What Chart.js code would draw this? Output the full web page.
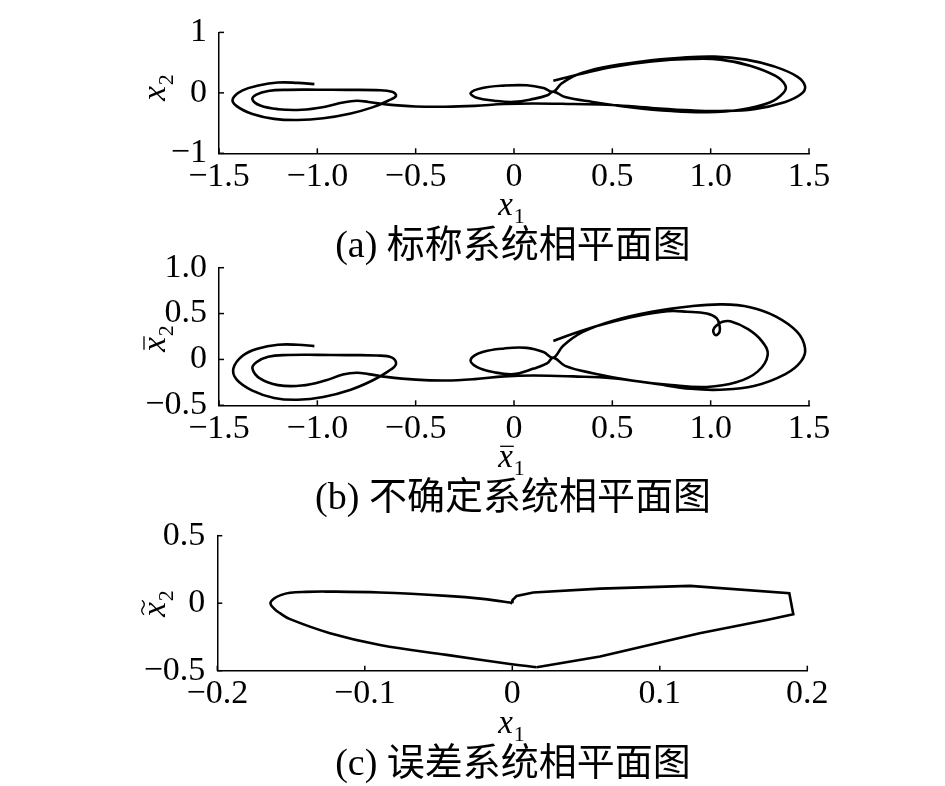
<!DOCTYPE html>
<html>
<head>
<meta charset="utf-8">
<script src="https://cdn.jsdelivr.net/npm/chart.js@4.4.1/dist/chart.umd.min.js"></script>
<style>
  html, body { margin: 0; padding: 0; background: #fff; }
  #wrap { position: relative; width: 945px; height: 786px; }
  #wrap canvas { position: absolute; left: 0; top: 0; }
</style>
</head>
<body>
<div id="wrap">
  <canvas id="chartA" width="945" height="786"></canvas>
  <canvas id="chartB" width="945" height="786"></canvas>
  <canvas id="chartC" width="945" height="786"></canvas>
</div>
<script>
// (a) 标称系统 x1 / x2
const nominalX = [-1.015, -1.1, -1.2, -1.3, -1.38, -1.43, -1.41, -1.33, -1.22, -1.1, -0.97, -0.83, -0.72, -0.64, -0.6, -0.62, -0.7, -0.85, -1.0, -1.15, -1.25, -1.31, -1.33, -1.29, -1.2, -1.08, -0.96, -0.87, -0.8, -0.74, -0.65, -0.5, -0.35, -0.2, -0.05, 0.1, 0.3, 0.5, 0.7, 0.9, 1.05, 1.22, 1.38, 1.46, 1.48, 1.44, 1.32, 1.18, 1.02, 0.85, 0.65, 0.45, 0.32, 0.24, 0.2,
  0.15, 0.065, -0.05, -0.16, -0.22, -0.19, -0.1, 0.0, 0.1, 0.17, 0.2,
  0.26, 0.4, 0.6, 0.8, 0.98, 1.15, 1.3, 1.37, 1.38, 1.33, 1.2, 1.05, 0.9, 0.7, 0.5, 0.35, 0.25, 0.2];
const nominalY = [0.145, 0.165, 0.17, 0.12, 0.04, -0.1, -0.22, -0.35, -0.43, -0.45, -0.42, -0.34, -0.24, -0.13, -0.05, 0.02, 0.045, 0.05, 0.052, 0.05, 0.03, -0.03, -0.11, -0.21, -0.27, -0.28, -0.23, -0.16, -0.13, -0.15, -0.19, -0.225, -0.23, -0.215, -0.185, -0.175, -0.185, -0.2, -0.25, -0.29, -0.3, -0.27, -0.15, -0.02, 0.11, 0.27, 0.44, 0.55, 0.6, 0.58, 0.52, 0.42, 0.3, 0.15, 0.02,
  0.08, 0.125, 0.12, 0.08, 0.0, -0.08, -0.13, -0.15, -0.1, -0.04, 0.02,
  -0.07, -0.15, -0.24, -0.3, -0.32, -0.28, -0.16, 0.0, 0.12, 0.28, 0.45, 0.55, 0.56, 0.52, 0.43, 0.32, 0.24, 0.2];

// (b) 不确定系统
const uncertainX = [-1.015, -1.1, -1.2, -1.3, -1.38, -1.427, -1.41, -1.33, -1.22, -1.1, -0.97, -0.83, -0.72, -0.64, -0.6, -0.62, -0.7, -0.85, -1.0, -1.15, -1.25, -1.31, -1.33, -1.29, -1.2, -1.08, -0.96, -0.87, -0.8, -0.74, -0.65, -0.5, -0.35, -0.2, -0.05, 0.1, 0.3, 0.5, 0.7, 0.9, 1.05, 1.22, 1.38, 1.46, 1.48, 1.44, 1.33, 1.2, 1.06, 0.9, 0.7, 0.5, 0.35, 0.25, 0.2,
  0.15, 0.065, -0.05, -0.16, -0.22, -0.19, -0.1, 0.0, 0.1, 0.17, 0.2,
  0.26, 0.4, 0.6, 0.8, 0.98, 1.13, 1.24, 1.29, 1.26, 1.19, 1.1, 1.06, 1.03, 1.013, 1.025, 1.045, 1.045, 1.03, 0.98, 0.88, 0.78, 0.62, 0.45, 0.3, 0.2];
const uncertainY = [0.145, 0.16, 0.16, 0.12, 0.04, -0.1, -0.22, -0.34, -0.42, -0.44, -0.41, -0.33, -0.23, -0.13, -0.05, 0.02, 0.043, 0.047, 0.05, 0.048, 0.03, -0.03, -0.1, -0.21, -0.28, -0.285, -0.23, -0.165, -0.145, -0.16, -0.19, -0.22, -0.23, -0.215, -0.185, -0.175, -0.185, -0.205, -0.26, -0.32, -0.33, -0.29, -0.16, -0.02, 0.12, 0.3, 0.47, 0.57, 0.6, 0.58, 0.52, 0.42, 0.3, 0.15, 0.02,
  0.08, 0.126, 0.12, 0.08, 0.0, -0.08, -0.14, -0.16, -0.1, -0.04, 0.02,
  -0.07, -0.15, -0.23, -0.28, -0.3, -0.25, -0.13, 0.05, 0.2, 0.33, 0.415, 0.41, 0.37, 0.32, 0.265, 0.3, 0.37, 0.45, 0.5, 0.52, 0.525, 0.47, 0.38, 0.28, 0.2];

// (c) 误差系统: smooth left part, then the straight right part
const errorCurveX = [0, -0.0016, -0.02, -0.0445, -0.0897, -0.126, -0.14, -0.1507, -0.157, -0.1615, -0.164, -0.1615, -0.1575, -0.1507, -0.1236, -0.0897, -0.0445, -0.0016, 0.0165];
const errorCurveY = [0, 0.005, 0.032, 0.054, 0.079, 0.086, 0.084, 0.077, 0.06, 0.035, 0, -0.04, -0.074, -0.118, -0.222, -0.309, -0.383, -0.45, -0.474];
const errorEdgeX = [0.0165, 0.0595, 0.127, 0.1725, 0.1905, 0.1878, 0.1205, 0.0595, 0.0142, 0.003, 0.0003, 0];
const errorEdgeY = [-0.474, -0.395, -0.222, -0.124, -0.082, 0.074, 0.128, 0.108, 0.079, 0.054, 0.025, 0];

// tick values and labels
const phaseTicksX = [-1.5, -1.0, -0.5, 0, 0.5, 1.0, 1.5];
const phaseLabelsX = ['\u22121.5', '\u22121.0', '\u22120.5', '0', '0.5', '1.0', '1.5'];
const nominalTicksY = [-1, 0, 1];
const nominalLabelsY = ['\u22121', '0', '1'];
const uncertainTicksY = [-0.5, 0, 0.5, 1.0];
const uncertainLabelsY = ['\u22120.5', '0', '0.5', '1.0'];
const errorTicksX = [-0.2, -0.1, 0, 0.1, 0.2];
const errorLabelsX = ['\u22120.2', '\u22120.1', '0', '0.1', '0.2'];
const errorTicksY = [-0.5, 0, 0.5];
const errorLabelsY = ['\u22120.5', '0', '0.5'];

const captions = ['(a) 标称系统相平面图', '(b) 不确定系统相平面图', '(c) 误差系统相平面图'];

const W = 945, H = 786;
const serif = '"Liberation Serif", "Times New Roman", serif';

// x with subscript, optional bar / tilde on top
function drawVar(ctx, mark, sub, cx, base) {
  ctx.font = 'italic 33px ' + serif;
  const wx = ctx.measureText('x').width;
  ctx.font = '22px ' + serif;
  const ws = ctx.measureText(sub).width;
  const x0 = cx - (wx + 2 + ws) / 2;
  ctx.textAlign = 'left';
  ctx.textBaseline = 'alphabetic';
  ctx.font = 'italic 33px ' + serif;
  ctx.fillText('x', x0, base);
  ctx.font = '22px ' + serif;
  ctx.fillText(sub, x0 + wx + 1, base + 8);
  ctx.lineWidth = 1.3;
  if (mark === 'bar') {
    ctx.beginPath();
    ctx.moveTo(x0 + 2, base - 21);
    ctx.lineTo(x0 + wx + 1, base - 21);
    ctx.stroke();
  } else if (mark === 'tilde') {
    const a = x0 + 2, b = x0 + wx + 2, m = (a + b) / 2, yy = base - 22;
    ctx.beginPath();
    ctx.moveTo(a, yy + 1);
    ctx.quadraticCurveTo((a + m) / 2, yy - 3, m, yy);
    ctx.quadraticCurveTo((m + b) / 2, yy + 3, b, yy - 1);
    ctx.stroke();
  }
}

const decor = {
  id: 'decor',
  afterDraw(chart, args, o) {
    const { ctx } = chart;
    const xs = chart.scales.x, ys = chart.scales.y;
    ctx.save();
    ctx.strokeStyle = '#000';
    ctx.fillStyle = '#000';
    ctx.lineWidth = 1.5;
    xs.ticks.forEach(t => {
      const px = xs.getPixelForValue(t.value);
      ctx.beginPath(); ctx.moveTo(px, ys.bottom); ctx.lineTo(px, ys.bottom - 5); ctx.stroke();
    });
    ys.ticks.forEach(t => {
      const py = ys.getPixelForValue(t.value);
      ctx.beginPath(); ctx.moveTo(xs.left, py); ctx.lineTo(xs.left + 5, py); ctx.stroke();
    });
    drawVar(ctx, o.xMark, '1', 512, ys.bottom + 62);
    ctx.save();
    ctx.translate(165, o.yTitleY);
    ctx.rotate(-Math.PI / 2);
    drawVar(ctx, o.yMark, '2', 0, 0);
    ctx.restore();
    ctx.font = '38px "Liberation Serif", "Noto Sans CJK SC", serif';
    ctx.textAlign = 'center';
    ctx.textBaseline = 'alphabetic';
    ctx.fillText(o.caption, 513, ys.bottom + 104);
    ctx.restore();
  }
};

function makeChart(id, parts, o) {
  const ctx = document.getElementById(id).getContext('2d');
  return new Chart(ctx, {
    type: 'scatter',
    data: {
      datasets: parts.map(p => ({
        data: p.xs.map((x, i) => ({ x: x, y: p.ys[i] })),
        showLine: true,
        borderColor: '#000',
        borderWidth: 2.6,
        pointRadius: 0,
        tension: p.tension,
        fill: false,
      }))
    },
    options: {
      responsive: false,
      animation: false,
      layout: { padding: { left: 0, top: o.top, right: W - o.right, bottom: 0 } },
      plugins: {
        legend: { display: false },
        tooltip: { enabled: false },
        decor: { xMark: o.xMark, yMark: o.yMark, caption: o.caption, yTitleY: o.yTitleY },
      },
      scales: {
        x: {
          type: 'linear',
          min: o.xTicks[0],
          max: o.xTicks[o.xTicks.length - 1],
          afterBuildTicks: s => { s.ticks = o.xTicks.map(v => ({ value: v })); },
          afterFit: s => { s.height = H - o.bottom; },
          ticks: {
            autoSkip: false,
            maxRotation: 0,
            padding: 3,
            color: '#000',
            font: { family: serif, size: 34 },
            callback: v => o.xLabels[o.xTicks.findIndex(t => Math.abs(t - v) < 1e-9)],
          },
          grid: { display: false, drawTicks: false },
          border: { display: true, color: '#000', width: 1.5 },
        },
        y: {
          type: 'linear',
          min: o.yTicks[0],
          max: o.yTicks[o.yTicks.length - 1],
          afterBuildTicks: s => { s.ticks = o.yTicks.map(v => ({ value: v })); },
          afterFit: s => { s.width = o.left; },
          ticks: {
            autoSkip: false,
            padding: 12,
            color: '#000',
            font: { family: serif, size: 34 },
            callback: v => o.yLabels[o.yTicks.findIndex(t => Math.abs(t - v) < 1e-9)],
          },
          grid: { display: false, drawTicks: false },
          border: { display: true, color: '#000', width: 1.5 },
        }
      }
    },
    plugins: [decor]
  });
}

makeChart('chartA', [{ xs: nominalX, ys: nominalY, tension: 0.4 }], {
  left: 219, right: 809, top: 20.7, bottom: 153.3,
  xTicks: phaseTicksX, xLabels: phaseLabelsX, yTicks: nominalTicksY, yLabels: nominalLabelsY,
  xMark: '', yMark: '', caption: captions[0], yTitleY: 87
});
makeChart('chartB', [{ xs: uncertainX, ys: uncertainY, tension: 0.4 }], {
  left: 219, right: 809, top: 267.7, bottom: 405.3,
  xTicks: phaseTicksX, xLabels: phaseLabelsX, yTicks: uncertainTicksY, yLabels: uncertainLabelsY,
  xMark: 'bar', yMark: 'bar', caption: captions[1], yTitleY: 338
});
makeChart('chartC', [
  { xs: errorCurveX, ys: errorCurveY, tension: 0.4 },
  { xs: errorEdgeX, ys: errorEdgeY, tension: 0 }
], {
  left: 217.3, right: 807.3, top: 535.7, bottom: 670.7,
  xTicks: errorTicksX, xLabels: errorLabelsX, yTicks: errorTicksY, yLabels: errorLabelsY,
  xMark: '', yMark: 'tilde', caption: captions[2], yTitleY: 603
});
</script>
</body>
</html>
